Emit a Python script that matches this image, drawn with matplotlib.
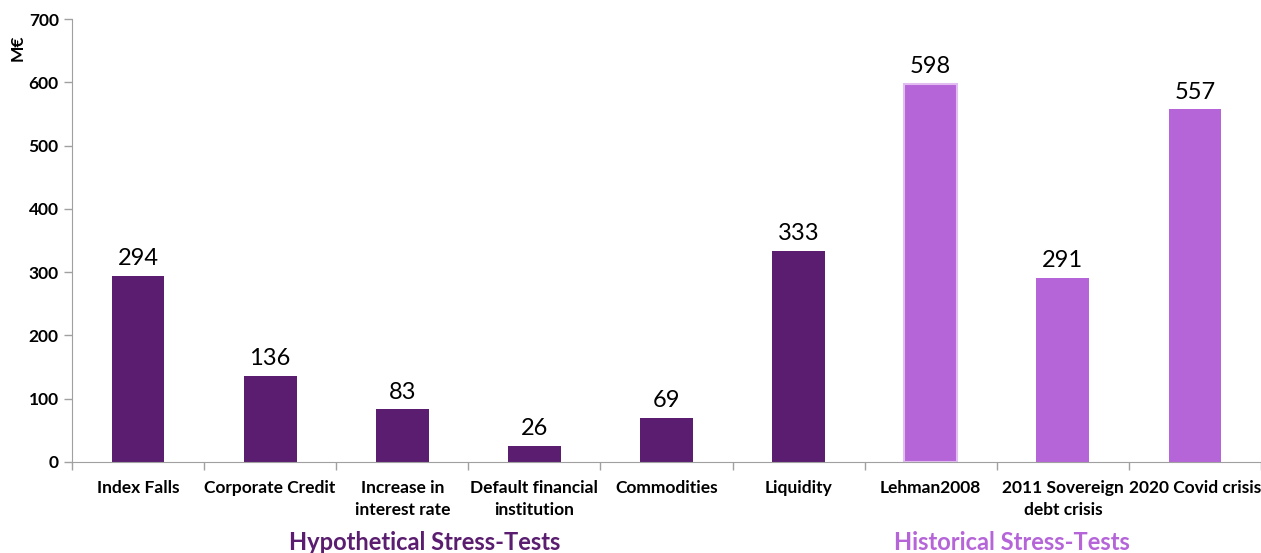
import matplotlib
matplotlib.use('Agg')
import matplotlib.pyplot as plt
import numpy as np

plt.rcParams['font.family'] = ['Lato', 'DejaVu Sans']

categories = ['Index Falls', 'Corporate Credit', 'Increase in\ninterest rate',
              'Default financial\ninstitution', 'Commodities', 'Liquidity',
              'Lehman2008', '2011 Sovereign\ndebt crisis', '2020 Covid crisis']
values = [294, 136, 83, 26, 69, 333, 598, 291, 557]
groups = ['hyp'] * 6 + ['hist'] * 3

dark = '#5A1D6F'
light = '#B565D8'
colors = [dark if g == 'hyp' else light for g in groups]

fig = plt.figure(figsize=(12.61, 5.53), dpi=100)
ax = fig.add_axes([72 / 1261, 1 - 462 / 553, 1 - 72 / 1261, (462 - 19) / 553])

x = np.arange(len(categories))
bars = ax.bar(x, values, width=0.4, color=colors, zorder=2)
bars[6].set_edgecolor('#E3BDF2')
bars[6].set_linewidth(1.5)

for xi, v in zip(x, values):
    ax.annotate(str(v), (xi, v), xytext=(0, 5), textcoords='offset points',
                ha='center', va='bottom', fontsize=17, color='black')

ax.set_xlim(-0.5, len(categories) - 0.5)
ax.set_ylim(0, 700)
ax.set_yticks(range(0, 701, 100))
ax.tick_params(axis='y', labelsize=12.5, length=6, color='#A0A0A0', width=1)
for lbl in ax.get_yticklabels():
    lbl.set_fontweight('bold')

ax.set_xticks(np.arange(-0.5, len(categories), 1.0))
ax.set_xticklabels([])
ax.tick_params(axis='x', which='major', length=6, color='#A0A0A0', width=1)
ax.set_xticks(x, minor=True)
ax.set_xticklabels(categories, minor=True, fontsize=12.5, fontweight='bold',
                   linespacing=1.45)
ax.tick_params(axis='x', which='minor', length=0, pad=13)

for side in ['top', 'right']:
    ax.spines[side].set_visible(False)
for side in ['left', 'bottom']:
    ax.spines[side].set_color('#A0A0A0')

fig.text(18 / 1261, 1 - 48 / 553, 'M€', rotation=90, ha='center', va='center',
         fontsize=12.5, fontweight='bold')

fig.text(425 / 1261, 1 - 543 / 553, 'Hypothetical Stress-Tests', ha='center',
         va='center', fontsize=17, fontweight='bold', color=dark)
fig.text(1012 / 1261, 1 - 543 / 553, 'Historical Stress-Tests', ha='center',
         va='center', fontsize=17, fontweight='bold', color=light)

fig.savefig('out.png', dpi=100)
